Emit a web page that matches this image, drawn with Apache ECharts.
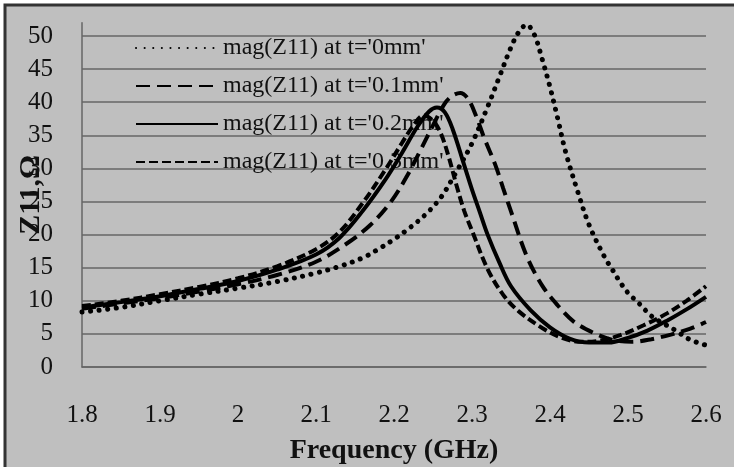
<!DOCTYPE html>
<html>
<head>
<meta charset="utf-8">
<script src="https://cdn.jsdelivr.net/npm/echarts@6/dist/echarts.min.js"></script>
<style>html,body{margin:0;padding:0;background:#fff}#c{width:734px;height:467px}</style>
</head>
<body>
<div id="c"></div>
<script>
// ---- data ----
var seriesNames = ["mag(Z11) at t='0mm'", "mag(Z11) at t='0.1mm'", "mag(Z11) at t='0.2mm'", "mag(Z11) at t='0.3mm'"];
var xTicks = [1.8, 1.9, 2.0, 2.1, 2.2, 2.3, 2.4, 2.5, 2.6];
var yTicks = [0, 5, 10, 15, 20, 25, 30, 35, 40, 45, 50];

var freq0 = [1.80,1.85,1.90,1.95,2.00,2.05,2.10,2.13,2.16,2.18,2.20,2.22,2.24,2.26,2.28,2.30,2.32,2.335,2.35,2.36,2.37,2.38,2.39,2.40,2.41,2.42,2.435,2.45,2.47,2.48,2.49,2.50,2.515,2.53,2.545,2.56,2.58,2.60];
var z0    = [8.3,9.0,10.0,11.0,11.9,12.9,14.2,15.2,16.5,17.8,19.3,21.0,23.0,25.6,29.5,33.8,39.3,43.8,48.3,50.6,51.7,50.2,46.5,42.3,37.5,32.5,26.7,21.5,16.6,14.7,12.8,11.2,9.5,7.7,6.6,5.6,4.1,3.3];

var freq01 = [1.80,1.85,1.90,1.95,2.00,2.05,2.10,2.14,2.17,2.195,2.215,2.235,2.25,2.265,2.275,2.285,2.295,2.305,2.315,2.33,2.34,2.35,2.37,2.39,2.41,2.43,2.455,2.48,2.505,2.53,2.555,2.58,2.60];
var z01    = [8.8,9.6,10.4,11.4,12.5,13.9,15.9,18.7,21.5,24.8,28.5,33.0,36.5,39.8,41.0,41.4,40.5,38.0,34.8,30.5,27.0,23.5,16.8,12.3,9.3,6.9,5.2,4.1,3.8,4.2,4.9,5.8,6.8];

var freq02 = [1.80,1.85,1.90,1.95,2.00,2.05,2.10,2.13,2.16,2.19,2.21,2.23,2.245,2.255,2.265,2.275,2.29,2.30,2.31,2.32,2.335,2.35,2.375,2.40,2.425,2.45,2.475,2.50,2.525,2.55,2.575,2.60];
var z02    = [9.0,9.8,10.7,11.8,13.0,14.7,17.0,19.5,23.6,28.5,32.3,36.3,38.6,39.2,38.5,36.0,30.5,26.8,23.4,20.0,15.8,12.2,8.6,6.0,4.3,3.7,3.7,4.4,5.5,7.0,8.7,10.6];

var freq03 = [1.80,1.85,1.90,1.95,2.00,2.05,2.10,2.13,2.16,2.19,2.21,2.225,2.238,2.25,2.26,2.27,2.28,2.29,2.30,2.32,2.34,2.36,2.39,2.415,2.44,2.465,2.49,2.52,2.55,2.575,2.60];
var z03    = [9.2,10.0,11.0,12.1,13.4,15.2,17.8,20.4,24.8,30.0,33.8,36.5,38.0,37.2,35.3,31.8,27.5,23.6,20.6,14.8,10.9,8.4,5.9,4.4,3.8,4.0,4.8,6.3,8.1,10.0,12.2];

function pairs(xs, ys) { return xs.map(function (x, i) { return [x, ys[i]]; }); }

var FONT = 'Liberation Serif';
var chart = echarts.init(document.getElementById('c'), null, { renderer: 'canvas' });

var lineStyles = [
  { color: '#000', width: 5, type: [0.1, 8.5], cap: 'round' },
  { color: '#000', width: 4, type: [14, 7] },
  { color: '#000', width: 4, type: 'solid' },
  { color: '#000', width: 4, type: [9, 4] }
];
var datas = [pairs(freq0, z0), pairs(freq01, z01), pairs(freq02, z02), pairs(freq03, z03)];

chart.setOption({
  backgroundColor: '#ffffff',
  animation: false,
  graphic: [{
    type: 'rect', z: -10, silent: true,
    shape: { x: 5, y: 5, width: 740, height: 480 },
    style: { fill: '#bfbfbf', stroke: '#333', lineWidth: 3 }
  }],
  grid: { left: 82, right: 28, top: 22.8, bottom: 100, containLabel: false, outerBoundsMode: 'none' },
  legend: {
    show: true,
    orient: 'vertical',
    left: 130, top: 31,
    z: 1,
    itemWidth: 82, itemHeight: 14, itemGap: 14,
    data: seriesNames,
    itemStyle: { opacity: 0 },
    textStyle: { fontFamily: FONT, fontSize: 24, color: '#111' }
  },
  xAxis: {
    type: 'value', min: xTicks[0], max: xTicks[xTicks.length - 1], interval: 0.1,
    name: 'Frequency (GHz)', nameLocation: 'middle', nameGap: 70, nameMoveOverlap: false,
    nameTextStyle: { fontFamily: FONT, fontSize: 28, fontWeight: 'bold', color: '#111' },
    axisLine: { show: true, lineStyle: { color: '#666', width: 1.5 } },
    axisTick: { show: false },
    splitLine: { show: false },
    axisLabel: { fontFamily: FONT, fontSize: 25, color: '#111', margin: 36,
      formatter: function (v) { return String(Math.round(v * 10) / 10); } }
  },
  yAxis: {
    type: 'value', min: 0, max: 52, interval: 5,
    name: 'Z11,Ω', nameLocation: 'middle', nameGap: 36, nameRotate: 90, nameMoveOverlap: false,
    nameTextStyle: { fontFamily: FONT, fontSize: 30, fontWeight: 'bold', color: '#111' },
    axisLine: { show: true, lineStyle: { color: '#666', width: 1.5 } },
    axisTick: { show: false },
    splitLine: { show: true, showMaxLine: false, lineStyle: { color: '#666', width: 1.5 } },
    axisLabel: { fontFamily: FONT, fontSize: 25, color: '#111', margin: 29, showMaxLabel: false,
      formatter: function (v) { return yTicks.indexOf(v) >= 0 ? String(v) : ''; } }
  },
  series: seriesNames.map(function (n, i) {
    return {
      name: n, type: 'line', data: datas[i], showSymbol: false, symbol: 'none',
      smooth: 0.35, z: 3, clip: false,
      itemStyle: { color: '#000' },
      lineStyle: lineStyles[i]
    };
  })
});
</script>
</body>
</html>
